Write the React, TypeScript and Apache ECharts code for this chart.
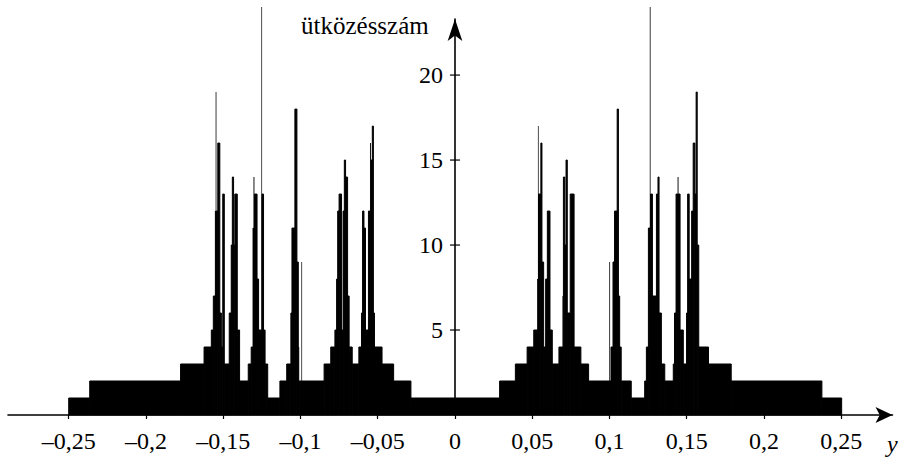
import React, { useEffect, useRef } from "react";
import * as echarts from "echarts";

// Histogram bins, left half (edges: n+1 values, counts: n values)
const leftEdges = [
  -0.25, -0.2364, -0.1776, -0.1624, -0.1577, -0.1564, -0.1554, -0.1549, -0.1544, -0.1535,
  -0.1522, -0.1512, -0.1503, -0.1493, -0.1461, -0.1448, -0.1441, -0.1433, -0.1425, -0.1409,
  -0.1394, -0.1338, -0.1319, -0.131, -0.1304, -0.1298, -0.1281, -0.1271, -0.1253, -0.1249,
  -0.1239, -0.1229, -0.1212, -0.1133, -0.1089, -0.1062, -0.1055, -0.1036, -0.1023, -0.1014,
  -0.1008, -0.0994, -0.099, -0.0847, -0.0804, -0.0777, -0.0766, -0.0759, -0.075, -0.0734,
  -0.0724, -0.0716, -0.0708, -0.0695, -0.0685, -0.0665, -0.0622, -0.0605, -0.0598, -0.0589,
  -0.0579, -0.056, -0.055, -0.0544, -0.0535, -0.0528, -0.0521, -0.0472, -0.0397, -0.0285, 0,
];
const leftCounts = [
  1, 2, 3, 4, 5, 7, 12, 19, 12, 16,
  6, 4, 13, 3, 6, 10, 14, 10, 13, 5,
  2, 3, 4, 11, 14, 13, 8, 5, 24, 13,
  5, 3, 1, 2, 3, 6, 11, 18, 9, 4,
  2, 9, 2, 3, 4, 5, 8, 12, 13, 5,
  12, 15, 14, 7, 4, 3, 4, 6, 12, 11,
  5, 12, 16, 15, 17, 6, 4, 3, 2, 1,
];

// Histogram bins, right half
const rightEdges = [
  0, 0.0289, 0.0391, 0.0467, 0.051, 0.0533, 0.0537, 0.0541, 0.0556, 0.0563,
  0.0574, 0.0587, 0.0598, 0.0615, 0.063, 0.0673, 0.0696, 0.0702, 0.0711, 0.0719,
  0.0727, 0.0746, 0.0771, 0.0815, 0.0865, 0.0999, 0.1004, 0.101, 0.1023, 0.1033,
  0.105, 0.1058, 0.1066, 0.1076, 0.1141, 0.1228, 0.1239, 0.1252, 0.1261, 0.1266,
  0.1278, 0.1304, 0.1314, 0.1321, 0.1336, 0.1358, 0.1413, 0.1421, 0.1431, 0.1441,
  0.1447, 0.1457, 0.1478, 0.1499, 0.1506, 0.1516, 0.1532, 0.1542, 0.1553, 0.1561,
  0.1568, 0.1578, 0.1641, 0.1788, 0.2375, 0.2503,
];
const rightCounts = [
  1, 2, 3, 4, 5, 8, 17, 13, 16, 9,
  4, 8, 12, 5, 3, 4, 7, 14, 10, 15,
  6, 13, 4, 3, 2, 9, 2, 4, 9, 12,
  18, 7, 4, 2, 1, 2, 4, 11, 24, 13,
  7, 13, 14, 6, 3, 2, 3, 6, 13, 14,
  13, 5, 3, 6, 13, 8, 12, 16, 13, 19,
  10, 4, 3, 2, 1,
];

const xTickValues = [-0.25, -0.2, -0.15, -0.1, -0.05, 0, 0.05, 0.1, 0.15, 0.2, 0.25];
const yTickValues = [5, 10, 15, 20];
const yAxisTitle = "ütközésszám";
const xAxisTitle = "y";

const SERIF = "'Liberation Serif', 'DejaVu Serif', serif";

function toBins(edges: number[], counts: number[]) {
  return counts.map((c, i) => [edges[i], edges[i + 1], c]);
}

function fmtX(v: number) {
  if (Math.abs(v) < 1e-9) return "0";
  const s = String(Math.round(Math.abs(v) * 100) / 100).replace(".", ",");
  return (v < 0 ? "\u2013" : "") + s;
}

export default function App() {
  const ref = useRef<HTMLDivElement>(null);

  useEffect(() => {
    if (!ref.current) return;
    const chart = echarts.init(ref.current, undefined, { renderer: "svg" });
    const bins = [...toBins(leftEdges, leftCounts), ...toBins(rightEdges, rightCounts)];

    chart.setOption({
      animation: false,
      backgroundColor: "#fff",
      grid: { left: 8, right: 12.5, top: 19, bottom: 44, containLabel: false, outerBoundsMode: "none" },
      xAxis: {
        type: "value",
        min: -0.2893,
        max: 0.2832,
        axisLine: {
          onZero: false,
          lineStyle: { color: "#000", width: 1.6 },
          symbol: ["none", "arrow"],
          symbolSize: [12, 17],
        },
        axisTick: { show: true, length: 4, inside: false, customValues: xTickValues, lineStyle: { color: "#000", width: 1.2 } },
        axisLabel: {
          customValues: xTickValues,
          formatter: (v: number) => fmtX(v),
          color: "#000",
          fontFamily: SERIF,
          fontSize: 24,
          margin: 14,
        },
        splitLine: { show: false },
      },
      yAxis: {
        type: "value",
        position: "left",
        offset: -447,
        min: 0,
        max: 23.3,
        axisLine: {
          onZero: false,
          lineStyle: { color: "#000", width: 1.6 },
          symbol: ["none", "arrow"],
          symbolSize: [11, 22],
        },
        axisTick: { show: false },
        axisLabel: {
          customValues: yTickValues,
          formatter: (v: number) => String(v),
          color: "#000",
          fontFamily: SERIF,
          fontSize: 24,
          margin: 12,
        },
        splitLine: { show: false },
      },
      graphic: [
        {
          type: "text",
          left: 301,
          top: 13,
          style: { text: yAxisTitle, fill: "#000", font: `25px ${SERIF}` },
        },
        {
          type: "text",
          left: 887,
          top: 432,
          style: { text: xAxisTitle, fill: "#000", font: `italic 24px ${SERIF}` },
        },
      ],
      series: [
        {
          type: "custom",
          clip: false,
          data: bins,
          encode: { x: [0, 1], y: 2 },
          renderItem: (params: any, api: any) => {
            const i = params.dataIndex;
            const x0 = api.value(0);
            const x1 = api.value(1);
            const c = api.value(2);
            const p0 = api.coord([x0, c]);
            const p1 = api.coord([x1, 0]);
            const w = p1[0] - p0[0];
            if (w >= 1) {
              return {
                type: "rect",
                shape: { x: p0[0], y: p0[1], width: w, height: p1[1] - p0[1] },
                style: { fill: "#000", stroke: "#000", lineWidth: 1 },
              };
            }
            // very narrow bin: solid base up to the lower neighbour, hairline above it
            const prev = i > 0 ? bins[i - 1][2] : 0;
            const next = i < bins.length - 1 ? bins[i + 1][2] : 0;
            const base = Math.min(prev, next, c);
            const pb = api.coord([x0, base]);
            return {
              type: "group",
              children: [
                {
                  type: "rect",
                  shape: { x: p0[0], y: pb[1], width: w, height: p1[1] - pb[1] },
                  style: { fill: "#000", stroke: "#000", lineWidth: 1 },
                },
                {
                  type: "rect",
                  shape: { x: p0[0], y: p0[1], width: Math.max(w, 0.7), height: pb[1] - p0[1] + 1 },
                  style: { fill: "#000" },
                },
              ],
            };
          },
        },
        {
          type: "scatter",
          data: yTickValues.map((v) => [0, v]),
          symbol: "rect",
          symbolSize: [10, 1.5],
          itemStyle: { color: "#000" },
          silent: true,
        },
      ],
    });

    return () => chart.dispose();
  }, []);

  return (
    <div
      ref={ref}
      style={{ position: "fixed", left: 0, top: 0, width: 905, height: 459, background: "#fff" }}
    />
  );
}
